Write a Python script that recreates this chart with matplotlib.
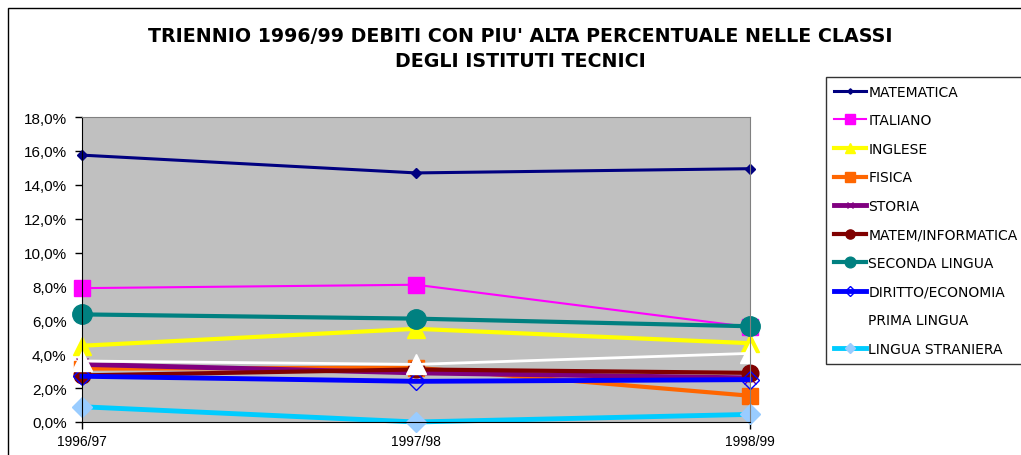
import matplotlib.pyplot as plt
from matplotlib.patches import Rectangle
from matplotlib.ticker import FuncFormatter

plt.rcParams['font.family'] = ['Liberation Sans', 'DejaVu Sans']

# anni scolastici
years = ["1996/97", "1997/98", "1998/99"]

# percentuali di debiti per materia
matematica = [15.75, 14.7, 14.95]
italiano = [7.9, 8.1, 5.6]
inglese = [4.5, 5.5, 4.65]
fisica = [3.15, 3.2, 1.55]
storia = [3.4, 2.9, 2.6]
matem_inf = [2.75, 3.1, 2.9]
seconda_lingua = [6.35, 6.1, 5.65]
diritto_eco = [2.7, 2.4, 2.5]
prima_lingua = [3.6, 3.4, 4.05]
lingua_straniera = [0.9, 0.0, 0.45]

fig = plt.figure(figsize=(10.21, 4.56), dpi=100)
ax = fig.add_axes([82 / 1021, 33 / 456, 668 / 1021, 305 / 456])
ax.set_facecolor("#C0C0C0")

x = range(len(years))
ax.plot(x, matematica, color="#000080", lw=2.2, marker="D", ms=5, label="MATEMATICA", clip_on=False)
ax.plot(x, italiano, color="#FF00FF", lw=1.5, marker="s", ms=12, label="ITALIANO", clip_on=False)
ax.plot(x, inglese, color="#FFFF00", lw=3, marker="^", ms=13, label="INGLESE", clip_on=False)
ax.plot(x, fisica, color="#FF6600", lw=3, marker="s", ms=12, label="FISICA", clip_on=False)
ax.plot(x, storia, color="#800080", lw=3.5, marker="x", ms=9, mew=1, label="STORIA", clip_on=False)
ax.plot(x, matem_inf, color="#800000", lw=3, marker="o", ms=12, label="MATEM/INFORMATICA", clip_on=False)
ax.plot(x, seconda_lingua, color="#008080", lw=3, marker="o", ms=14, label="SECONDA LINGUA", clip_on=False)
ax.plot(x, diritto_eco, color="#0000FF", lw=3.5, marker="D", ms=9, mfc="none", mec="#0000FF", mew=1,
        label="DIRITTO/ECONOMIA", clip_on=False)
ax.plot(x, prima_lingua, color="white", lw=2, marker="^", ms=14, label="PRIMA LINGUA", clip_on=False)
ax.plot(x, lingua_straniera, color="#00CCFF", lw=3.5, marker="D", ms=10, mfc="#99CCFF", mec="#99CCFF",
        label="LINGUA STRANIERA", clip_on=False)

ax.set_xlim(0, 2)
ax.set_ylim(0, 18)
ax.set_yticks(range(0, 19, 2))
ax.yaxis.set_major_formatter(FuncFormatter(lambda v, p: f"{v:.1f}%".replace(".", ",")))
ax.set_xticks(list(x))
ax.set_xticklabels(years)
ax.tick_params(axis="both", length=5, direction="out", width=1)
ax.tick_params(axis="x", labelsize=10, pad=4)
ax.tick_params(axis="y", labelsize=11, pad=6)
for s in ["left", "bottom"]:
    ax.spines[s].set_color("black")
for s in ["top", "right"]:
    ax.spines[s].set_color("#808080")

fig.text(0.51, 0.94, "TRIENNIO 1996/99 DEBITI CON PIU' ALTA PERCENTUALE NELLE CLASSI\nDEGLI ISTITUTI TECNICI",
         ha="center", va="top", fontsize=13.7, fontweight="bold", family="DejaVu Sans", linespacing=1.35)

leg = fig.legend(loc="upper left", bbox_to_anchor=(826 / 1021, 1 - 78 / 456), borderaxespad=0,
                 prop={"family": "DejaVu Sans", "size": 10},
                 frameon=True, fancybox=False, edgecolor="black", labelspacing=1.05,
                 handlelength=2.3, handletextpad=0.2, borderpad=0.55, markerscale=0.55)
leg.get_frame().set_linewidth(1)

# cornice esterna del grafico
fig.patches.append(Rectangle((8 / 1021, -0.1), 1.1, 1 - 9 / 456 + 0.1, transform=fig.transFigure,
                             fill=False, edgecolor="black", lw=1))

fig.savefig("out.png", dpi=100)
